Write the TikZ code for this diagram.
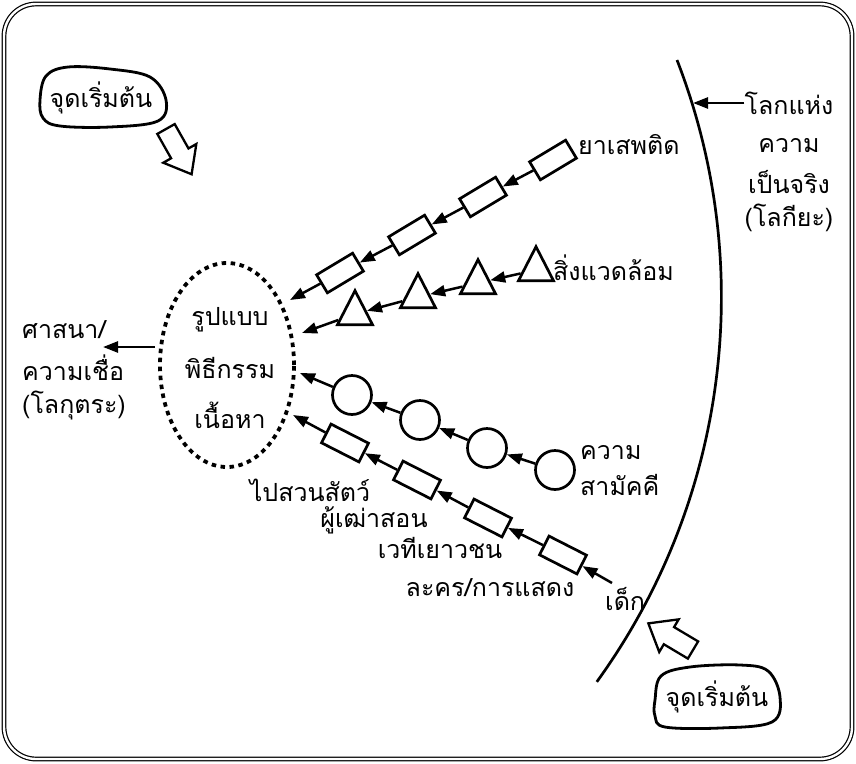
\documentclass[tikz,border=0pt]{standalone}
\usepackage{fontspec}
\newfontfamily\thaifont[Script=Thai]{Loma}
\usetikzlibrary{arrows.meta,shapes.geometric}
\tikzset{
  txt/.style={inner sep=0pt, font=\thaifont\fontsize{25}{29}\selectfont},
  conn/.style={line width=2.5pt, -{Triangle[length=15pt,width=11pt]}},
  rectbox/.style={draw, line width=2.7pt, minimum width=42pt, minimum height=21pt, inner sep=0pt},
  circbox/.style={draw, circle, line width=2.7pt, minimum size=39pt, inner sep=0pt},
  tribox/.style={draw, isosceles triangle, isosceles triangle stretches, shape border rotate=90,
     minimum width=35pt, minimum height=34pt, line width=2.7pt, inner sep=0pt},
  bubble/.style={line width=2.8pt},
  blockarrow/.style={line width=2.3pt, line join=miter}
}
\begin{document}
\begin{tikzpicture}[x=1pt,y=-1pt]
\useasboundingbox (0,0) rectangle (856,763);
% frame
\draw[double, double distance=2.4pt, line width=1.2pt, rounded corners=32pt] (4,4) rectangle (852,759);

% start bubbles
\draw[bubble] plot[smooth cycle, tension=0.6] coordinates {(40,100) (46,76) (68,67) (110,69) (150,77) (166,100) (158,121) (110,127) (60,126) (43,118)};
\node[txt] (start1) at (101,98) {จุดเริ่มต้น};
\draw[blockarrow, shift={(166,129)}, rotate=-60.5] (0,-10) -- (28,-10) -- (28,-19) -- (52,0) -- (28,19) -- (28,10) -- (0,10) -- cycle;

\draw[bubble] plot[smooth cycle, tension=0.6] coordinates {(655,700) (661,676) (690,667) (740,665) (768,671) (780,697) (772,722) (720,728) (665,727) (655,716)};
\node[txt] (start2) at (717,697) {จุดเริ่มต้น};
\draw[blockarrow, shift={(693,650)}, rotate=149.2] (0,-10) -- (28,-10) -- (28,-19) -- (52,0) -- (28,19) -- (28,10) -- (0,10) -- cycle;

% world arc
\draw[line width=2.7pt] (677,60) arc[start angle=-21.2, end angle=35.9, radius=656];
\node[txt] (w1) at (789,103) {โลกแห่ง};
\node[txt] (w2) at (789,146) {ความ};
\node[txt] (w3) at (789,182) {เป็นจริง};
\node[txt] (w4) at (789,218) {(โลกียะ)};
\coordinate (warc) at (693,103);
\draw[conn] (w1.west) -- (warc);

% center ellipse
\node[draw, ellipse, line width=3.8pt, dash pattern=on 4.5pt off 4.5pt, minimum width=134pt, minimum height=204pt] (E) at (227,365) {};
\node[txt] (e1) at (230,320) {รูปแบบ};
\node[txt] (e2) at (230,368) {พิธีกรรม};
\node[txt] (e3) at (230,415) {เนื้อหา};

% left
\coordinate (lt) at (155,347);
\coordinate (lh) at (103,347);
\draw[conn] (lt) -- (lh);
\node[txt, anchor=west] (l1) at (22,330) {ศาสนา/};
\node[txt, anchor=west] (l2) at (22,368) {ความเชื่อ};
\node[txt, anchor=west] (l3) at (22,405) {(โลกุตระ)};

% chain 1
\node[rectbox, rotate=31] (a1) at (553,160) {};
\node[rectbox, rotate=31] (a2) at (483,197) {};
\node[rectbox, rotate=31] (a3) at (412,235) {};
\node[rectbox, rotate=31] (a4) at (340,273) {};
\coordinate (a5) at (290,300);
\draw[conn] (a1) -- (a2);
\draw[conn] (a2) -- (a3);
\draw[conn] (a3) -- (a4);
\draw[conn] (a4) -- (a5);
\node[txt, anchor=west] (la) at (578,145) {ยาเสพติด};

% chain 2
\node[tribox] (b1) at (536,270) {};
\node[tribox] (b2) at (478,283) {};
\node[tribox] (b3) at (418,297) {};
\node[tribox] (b4) at (355,314) {};
\coordinate (b5) at (302,333);
\draw[conn] (b1) -- (b2);
\draw[conn] (b2) -- (b3);
\draw[conn] (b3) -- (b4);
\draw[conn] (b4) -- (b5);
\node[txt, anchor=west] (lb) at (553,268) {สิ่งแวดล้อม};

% chain 3
\node[circbox] (c1) at (555,470) {};
\node[circbox] (c2) at (487,448) {};
\node[circbox] (c3) at (420,420) {};
\node[circbox] (c4) at (352,395) {};
\coordinate (c5) at (300,373);
\draw[conn] (c1) -- (c2);
\draw[conn] (c2) -- (c3);
\draw[conn] (c3) -- (c4);
\draw[conn] (c4) -- (c5);
\node[txt, anchor=west] (lc1) at (580,453) {ความ};
\node[txt, anchor=west] (lc2) at (580,485) {สามัคคี};

% chain 4
\coordinate (d0) at (612,583);
\node[rectbox, rotate=-27] (d1) at (563,555) {};
\node[rectbox, rotate=-27] (d2) at (488,518) {};
\node[rectbox, rotate=-27] (d3) at (417,480) {};
\node[rectbox, rotate=-27] (d4) at (345,443) {};
\coordinate (d5) at (293,415);
\draw[conn] (d0) -- (d1);
\draw[conn] (d1) -- (d2);
\draw[conn] (d2) -- (d3);
\draw[conn] (d3) -- (d4);
\draw[conn] (d4) -- (d5);
\node[txt, anchor=west] (ld0) at (605,599) {เด็ก};
\node[txt] (ld1) at (490,588) {ละคร/การแสดง};
\node[txt] (ld2) at (440,548) {เวทีเยาวชน};
\node[txt] (ld3) at (374,520) {ผู้เฒ่าสอน};
\node[txt] (ld4) at (310,490) {ไปสวนสัตว์};
\end{tikzpicture}
\end{document}
